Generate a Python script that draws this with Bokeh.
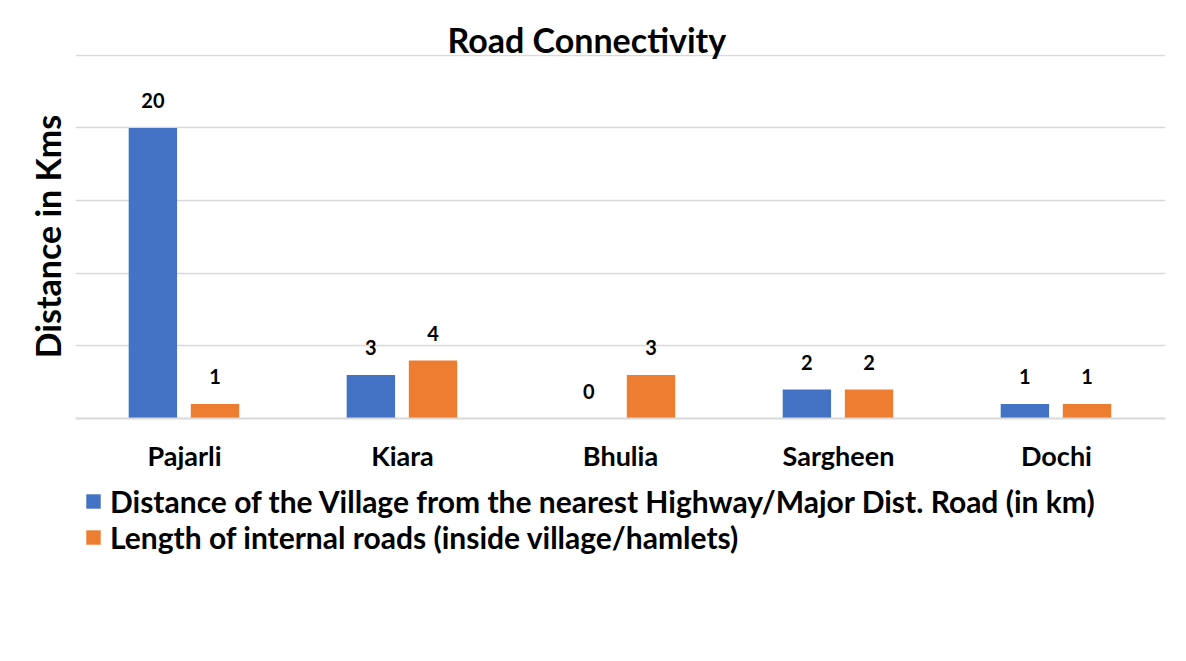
from bokeh.plotting import figure
from bokeh.layouts import column
from bokeh.models import (FactorRange, Range1d, FixedTicker, ColumnDataSource,
                          Legend, LegendItem)
from bokeh.transform import dodge
from bokeh.core.properties import value
from bokeh.embed import file_html
from bokeh.resources import INLINE

villages = ["Pajarli", "Kiara", "Bhulia", "Sargheen", "Dochi"]
highway_km = [20, 3, 0, 2, 1]
internal_km = [1, 4, 3, 2, 1]
series_names = ["Distance of the Village from the nearest Highway/Major Dist. Road (in km)",
                "Length of internal roads (inside village/hamlets)"]
y_ticks = [0, 5, 10, 15, 20, 25]

BLUE = "#4472C4"
ORANGE = "#ED7D31"
GRID = "#D9D9D9"
FONT = "Lato"

src = ColumnDataSource(dict(
    v=villages, a=highway_km, b=internal_km,
    at=[str(x) for x in highway_km], bt=[str(x) for x in internal_km],
))

x_range = FactorRange(*villages)
p = figure(x_range=x_range, y_range=Range1d(0, 25.05),
           width=1178, height=474, output_backend="svg", toolbar_location=None,
           min_border_left=75, min_border_right=13, min_border_top=54, min_border_bottom=55,
           title="Road Connectivity")
p.outline_line_color = None
p.background_fill_color = "white"
p.border_fill_color = "white"

p.title.align = "left"
p.title.offset = 372
p.title.standoff = -10
p.title.text_font = FONT
p.title.text_font_style = "bold"
p.title.text_font_size = "34px"
p.title.text_color = "black"

p.vbar(x=dodge("v", -0.145, range=x_range), top="a", width=0.222, source=src,
       fill_color=BLUE, line_color=None)
p.vbar(x=dodge("v", 0.14, range=x_range), top="b", width=0.222, source=src,
       fill_color=ORANGE, line_color=None)

for col, off in (("a", -0.145), ("b", 0.14)):
    p.text(x=dodge("v", off, range=x_range), y=col, text=col + "t", source=src,
           text_align="center", text_baseline="middle", y_offset=-27,
           text_font=value(FONT), text_font_style="bold", text_font_size="20px",
           text_color="black")

p.xgrid.grid_line_color = None
p.ygrid.grid_line_color = GRID
p.ygrid.grid_line_width = 1.5
p.ygrid.ticker = FixedTicker(ticks=y_ticks)

xa = p.xaxis[0]
xa.axis_line_color = GRID
xa.axis_line_width = 2
xa.major_tick_line_color = None
xa.minor_tick_line_color = None
xa.major_tick_out = 0
xa.major_label_standoff = 20
xa.major_label_text_font = FONT
xa.major_label_text_font_style = "bold"
xa.major_label_text_font_size = "27px"
xa.major_label_text_color = "black"

ya = p.yaxis[0]
ya.ticker = FixedTicker(ticks=[])
ya.axis_line_color = None
ya.major_tick_line_color = None
ya.minor_tick_line_color = None
ya.major_tick_out = 0
ya.major_label_standoff = 0
ya.axis_label = "Distance in Kms"
ya.axis_label_text_font = FONT
ya.axis_label_text_font_style = "bold"
ya.axis_label_text_font_size = "34px"
ya.axis_label_text_color = "black"
ya.axis_label_standoff = 8

# legend panel below the chart (series renderers kept outside its visible range)
lg = figure(width=1178, height=150, output_backend="svg", toolbar_location=None,
            x_axis_type=None, y_axis_type=None, x_range=x_range, y_range=Range1d(1000, 1001),
            min_border_left=75, min_border_top=0, min_border_right=13, min_border_bottom=0)
lg.outline_line_color = None
lg.grid.grid_line_color = None
lg.border_fill_color = "white"
e1 = lg.vbar(x=dodge("v", -0.145, range=x_range), top="a", width=0.222, source=src,
             fill_color=BLUE, line_color=None)
e2 = lg.vbar(x=dodge("v", 0.14, range=x_range), top="b", width=0.222, source=src,
             fill_color=ORANGE, line_color=None)
legend = Legend(items=[LegendItem(label=series_names[0], renderers=[e1]),
                       LegendItem(label=series_names[1], renderers=[e2])],
                location="top_left", orientation="vertical")
legend.glyph_width = 18
legend.glyph_height = 18
legend.label_standoff = 8
legend.spacing = -5
legend.padding = 0
legend.margin = 9
legend.border_line_color = None
legend.background_fill_alpha = 0
legend.label_text_font = FONT
legend.label_text_font_style = "bold"
legend.label_text_font_size = "30px"
legend.label_text_color = "black"
lg.add_layout(legend, "center")

layout = column(p, lg, spacing=0)
open("out.html", "w").write(file_html(layout, INLINE))
